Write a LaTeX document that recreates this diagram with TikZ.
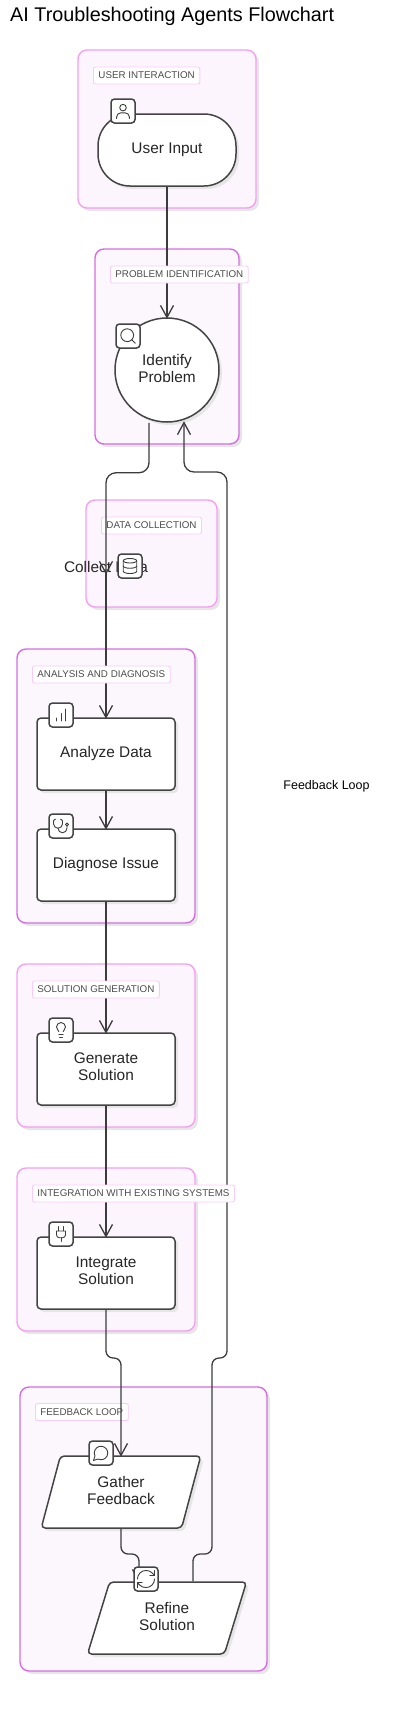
\documentclass[tikz,border=0pt]{standalone}
\usepackage{fontspec}
\setmainfont{Liberation Sans}
\usetikzlibrary{arrows.meta,calc,shadows,shapes.geometric}
\definecolor{edgegray}{HTML}{3C3C3C}
\definecolor{rimgray}{HTML}{444444}
\definecolor{shadegray}{HTML}{E6E6E6}
\definecolor{pinkrim}{HTML}{F3A0F0}
\definecolor{pinkfill}{HTML}{FDF5FE}
\definecolor{orchidrim}{HTML}{D46EE0}
\definecolor{orchidfill}{HTML}{FBF7FD}
\definecolor{tagrim}{HTML}{F8CCF8}
\newcommand{\lift}{\rule[-4pt]{0pt}{0pt}}
\begin{document}
\begin{tikzpicture}[
    x=1pt, y=-1pt,
    every node/.style={font=\fontsize{15.4}{17}\selectfont, text=black!85, inner sep=0pt, align=center},
    shaded/.style={drop shadow={shadow xshift=3pt, shadow yshift=-3pt, fill=shadegray, opacity=1}},
    pinkgroup/.style={rectangle, shaded, draw=pinkrim, fill=pinkfill, line width=1.4pt, rounded corners=9pt},
    orchidgroup/.style={rectangle, shaded, draw=orchidrim, fill=orchidfill, line width=1.4pt, rounded corners=9pt},
    grouptag/.style={rectangle, anchor=west, draw=tagrim, fill=white, line width=.9pt, rounded corners=2pt, minimum height=17pt, inner xsep=5pt, text=black!70, font=\fontsize{9.8}{11}\selectfont},
    stadium/.style={rectangle, shaded, draw=rimgray, fill=white, line width=1.5pt, rounded corners=32pt, minimum width=138pt, minimum height=72pt},
    bubble/.style={circle, shaded, draw=rimgray, fill=white, line width=1.5pt, minimum size=104pt},
    process/.style={rectangle, shaded, draw=rimgray, fill=white, line width=1.5pt, rounded corners=4pt, minimum width=138pt, minimum height=72pt},
    slanted/.style={trapezium, trapezium left angle=71.6, trapezium right angle=108.4, trapezium stretches=true, shaded, draw=rimgray, fill=white, line width=1.5pt, rounded corners=4pt, minimum width=160pt, minimum height=72pt},
    plaintext/.style={rectangle, minimum height=12pt},
    iconbox/.style={rectangle, draw=rimgray, fill=white, line width=1.5pt, rounded corners=3.5pt, minimum size=24pt},
    flow/.style={->, >={Straight Barb[length=12pt, width=13pt]}, shorten >=-1.5pt, draw=edgegray, line width=1.3pt, rounded corners=10pt},
    glyph/.style={draw=edgegray, line width=.9pt, line cap=round, line join=round, shift={(-12,-12)}},
    pics/usericon/.style={code={
        \draw[glyph] (12,7.5) circle[radius=4.4];
        \draw[glyph] (3.5,22) -- (3.5,20) arc[start angle=180, end angle=270, radius=5.5] -- (15,14.5) arc[start angle=270, end angle=360, radius=5.5] -- (20.5,22);}},
    pics/searchicon/.style={code={
        \draw[glyph] (11,11) circle[radius=8];
        \draw[glyph] (21,21) -- (16.65,16.65);}},
    pics/databaseicon/.style={code={
        \draw[glyph] (12,5) ellipse[x radius=9, y radius=3];
        \draw[glyph] (3,5) -- (3,19) arc[start angle=180, end angle=0, x radius=9, y radius=3] -- (21,5);
        \draw[glyph] (3,12) arc[start angle=180, end angle=0, x radius=9, y radius=3];}},
    pics/charticon/.style={code={
        \draw[glyph] (12,20) -- (12,10);
        \draw[glyph] (18,20) -- (18,4);
        \draw[glyph] (6,20) -- (6,16);}},
    pics/stethoicon/.style={code={
        \draw[glyph] (5,3) -- (4,3) arc[start angle=270, end angle=180, radius=2] -- (2,9) arc[start angle=180, end angle=0, radius=6] -- (14,5) arc[start angle=0, end angle=-90, radius=2] -- (11,3);
        \draw[glyph] (8,15) arc[start angle=180, end angle=0, radius=6] -- (20,12);
        \draw[glyph] (20,10) circle[radius=2];}},
    pics/bulbicon/.style={code={
        \draw[glyph] (15,14) .. controls (15.2,13) and (15.7,12.3) .. (16.5,11.5) .. controls (17.5,10.6) and (18,9.3) .. (18,8) arc[start angle=0, end angle=-180, radius=6] .. controls (6,9) and (6.2,10.2) .. (7.5,11.5) .. controls (8.2,12.2) and (8.8,13) .. (9,14);
        \draw[glyph] (9,18) -- (15,18);
        \draw[glyph] (10,22) -- (14,22);}},
    pics/plugicon/.style={code={
        \draw[glyph] (12,22) -- (12,17);
        \draw[glyph] (9,8) -- (9,2);
        \draw[glyph] (15,8) -- (15,2);
        \draw[glyph] (18,8) -- (18,13) arc[start angle=0, end angle=90, radius=4] -- (10,17) arc[start angle=90, end angle=180, radius=4] -- (6,8) -- cycle;}},
    pics/chaticon/.style={code={
        \draw[glyph] (7.9,20) arc[start angle=117.1, end angle=-207.1, radius=9] -- (2,22) -- cycle;}},
    pics/refreshicon/.style={code={
        \draw[glyph] (3,12) arc[start angle=180, end angle=270, radius=9] .. controls (14.5,3) and (16.9,3.9) .. (18.74,5.74) -- (21,8);
        \draw[glyph] (21,3) -- (21,8) -- (16,8);
        \draw[glyph] (21,12) arc[start angle=0, end angle=90, radius=9] .. controls (9.5,21) and (7.1,20.1) .. (5.26,18.26) -- (3,16);
        \draw[glyph] (8,16) -- (3,16) -- (3,21);}}
]
\useasboundingbox (0,0) rectangle (417,1716);

% -------------------------
% Title
% -------------------------
    \node[anchor=west, text=black, font=\fontsize{19.8}{22}\selectfont] (title) at (10,16) {AI Troubleshooting Agents Flowchart};

% -------------------------
% Groups
% -------------------------
    \node[pinkgroup, minimum width=178pt, minimum height=158pt] (usergroup) at (167,129) {};
    \node[orchidgroup, minimum width=144pt, minimum height=195pt] (problemgroup) at (167,346.5) {};
    \node[pinkgroup, minimum width=131pt, minimum height=107pt] (datagroup) at (151.5,553.5) {};
    \node[orchidgroup, minimum width=178pt, minimum height=274pt] (analysisgroup) at (106,786) {};
    \node[pinkgroup, minimum width=178pt, minimum height=163pt] (solutiongroup) at (106,1045.5) {};
    \node[pinkgroup, minimum width=178pt, minimum height=163pt] (integrationgroup) at (106,1249.5) {};
    \node[orchidgroup, minimum width=247pt, minimum height=284pt] (feedbackgroup) at (143.5,1529) {};

    % These two tags lie under the lines
    \node[grouptag] (datatag) at (101,525.5) {DATA COLLECTION};
    \node[grouptag] (feedbacktag) at (35,1412) {FEEDBACK LOOP};

% -------------------------
% Steps
% -------------------------
    \node[stadium] (userinput) at (167,150) {User Input};
    \node[bubble] (identify) at (167,370) {Identify\\Problem\lift};
    \node[plaintext] (collect) at (106,567) {Collect Data};
    \node[process] (analyze) at (106,754) {Analyze Data};
    \node[process] (diagnose) at (106,865) {Diagnose Issue};
    \node[process] (generate) at (106,1069) {Generate\\Solution\lift};
    \node[process] (integrate) at (106,1273) {Integrate\\Solution\lift};
    \node[slanted] (gather) at (121,1492) {Gather\\Feedback\lift};
    \node[slanted] (refine) at (167,1618) {Refine\\Solution\lift};

% -------------------------
% Arrows
% -------------------------
    \draw[flow] (userinput) -- (identify);
    \draw[flow] ($(identify.south)+(-18,0)$) -- ++(0,50) -| (collect.south);
    \draw[flow] (collect.south) -- (analyze);
    \draw[flow] (analyze) -- (diagnose);
    \draw[flow] (diagnose) -- (generate);
    \draw[flow] (generate) -- (integrate);
    \draw[flow, rounded corners=7pt] (integrate) -- (106,1358) -- (121,1358) -- (gather);
    \draw[flow, rounded corners=7pt] (gather) -- (121,1554) -- (139,1554) -- ($(refine.north)+(-28,0)$);
    \draw[flow, rounded corners=7pt] ($(refine.north)+(26,0)$) -- (193,1554) -- (212,1554) -- (212,1358) -- (227,1358) [rounded corners=10pt] -- (227,472) -- (184,472) -- ($(identify.south)+(17,0)$);

    \node[font=\fontsize{12.5}{14}\selectfont, text=black] (looplabel) at (326.5,786) {Feedback Loop};

    % The other tags hide the lines that pass them
    \node[grouptag] (usertag) at (93,75.5) {USER INTERACTION};
    \node[grouptag] (problemtag) at (110,274.5) {PROBLEM IDENTIFICATION};
    \node[grouptag] (analysistag) at (32,674.5) {ANALYSIS AND DIAGNOSIS};
    \node[grouptag] (solutiontag) at (32,989.5) {SOLUTION GENERATION};
    \node[grouptag] (integrationtag) at (32,1193.5) {INTEGRATION WITH EXISTING SYSTEMS};

% -------------------------
% Icons
% -------------------------
    \node[iconbox] (usermark) at (123,111) {};
    \pic[scale=.75] at (usermark) {usericon};
    \node[iconbox] (identifymark) at (128,336) {};
    \pic[scale=.8] at (identifymark) {searchicon};
    \node[iconbox] (collectmark) at (130,566) {};
    \pic[scale=.75] at (collectmark) {databaseicon};
    \node[iconbox] (analyzemark) at (61,715) {};
    \pic[scale=.75] at (analyzemark) {charticon};
    \node[iconbox] (diagnosemark) at (61,826) {};
    \pic[scale=.75] at (diagnosemark) {stethoicon};
    \node[iconbox] (generatemark) at (61,1030) {};
    \pic[scale=.75] at (generatemark) {bulbicon};
    \node[iconbox] (integratemark) at (61,1234) {};
    \pic[scale=.75] at (integratemark) {plugicon};
    \node[iconbox] (gathermark) at (101,1453) {};
    \pic[scale=.75] at (gathermark) {chaticon};
    \node[iconbox] (refinemark) at (146,1579) {};
    \pic[scale=.95] at (refinemark) {refreshicon};
\end{tikzpicture}
\end{document}
